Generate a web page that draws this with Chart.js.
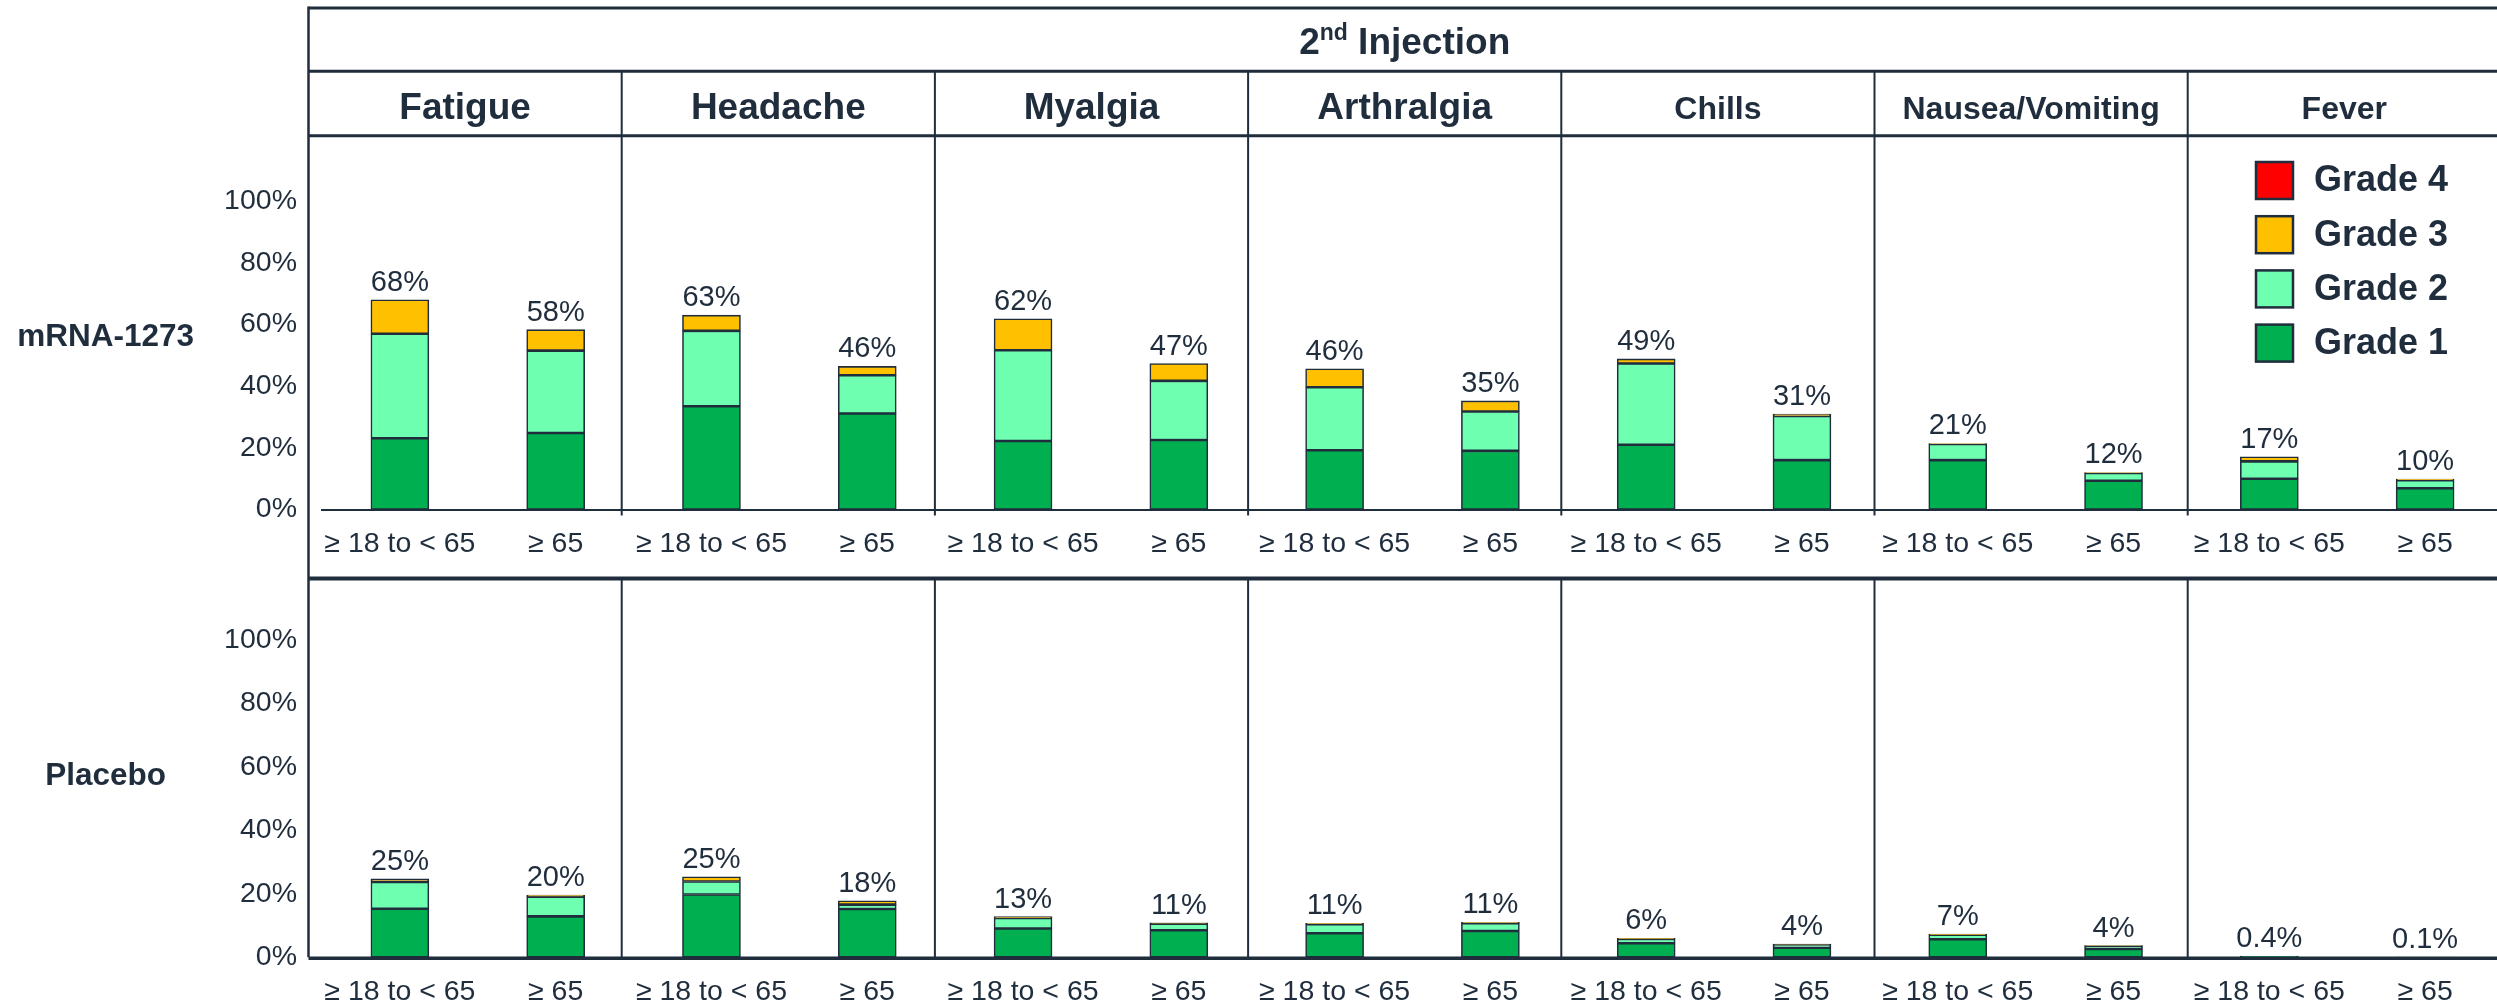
<!DOCTYPE html>
<html>
<head>
<meta charset="utf-8">
<script src="https://cdn.jsdelivr.net/npm/chart.js@4.4.1/dist/chart.umd.min.js"></script>
<style>
    html, body { margin: 0; padding: 0; background: #fff; overflow: hidden; width: 2497px; height: 1007px; }
    canvas { position: absolute; left: 0; }
    #topChart { top: 0; }
    #bottomChart { top: 579px; }
</style>
</head>
<body>
<canvas id="topChart" width="2503" height="579"></canvas>
<canvas id="bottomChart" width="2503" height="428"></canvas>
<script>
// Categories
const symptoms = ['Fatigue', 'Headache', 'Myalgia', 'Arthralgia', 'Chills', 'Nausea/Vomiting', 'Fever'];
const ageGroups = ['≥ 18 to < 65', '≥ 65'];
const grades = ['Grade 1', 'Grade 2', 'Grade 3', 'Grade 4'];
const yTicks = [0, 20, 40, 60, 80, 100];

// mRNA-1273, one value per bar (symptom x age group), in %
const vaccineG1 = [23.1, 24.8, 33.5, 31.1, 22.2, 22.5, 19.2, 19.0, 21.0, 16.0, 16.0, 9.3, 10.0, 6.9];
const vaccineG2 = [33.9, 26.7, 24.4, 12.4, 29.4, 19.2, 20.4, 12.8, 26.3, 14.3, 5.2, 2.5, 5.6, 2.6];
const vaccineG3 = [11.0, 6.8, 5.1, 2.9, 10.2, 5.6, 6.0, 3.4, 1.5, 0.6, 0.2, 0.2, 1.5, 0.4];
const vaccineG4 = [0, 0, 0, 0, 0, 0, 0, 0, 0, 0, 0, 0, 0, 0];
const vaccineTotals = ['68%', '58%', '63%', '46%', '62%', '47%', '46%', '35%', '49%', '31%', '21%', '12%', '17%', '10%'];

// Placebo
const placeboG1 = [15.3, 12.9, 19.8, 15.2, 9.1, 8.5, 7.6, 8.3, 4.4, 3.0, 5.7, 2.6, 0.3, 0.1];
const placeboG2 = [8.4, 6.2, 4.1, 1.4, 3.3, 2.1, 2.8, 2.4, 1.4, 1.0, 1.4, 1.0, 0.1, 0];
const placeboG3 = [1.0, 0.5, 1.5, 1.2, 0.4, 0.3, 0.3, 0.3, 0.2, 0.2, 0.2, 0.1, 0, 0];
const placeboG4 = [0, 0, 0, 0, 0, 0, 0, 0, 0, 0, 0, 0, 0, 0];
const placeboTotals = ['25%', '20%', '25%', '18%', '13%', '11%', '11%', '11%', '6%', '4%', '7%', '4%', '0.4%', '0.1%'];

// Styles
const gradeColors = ['#00B050', '#6EFFB1', '#FFC000', '#FF0000'];
const headerSizes = [37, 37, 37, 37, 32, 32, 32];
const ink = '#1F2D3D';
const font = '"Liberation Sans", Arial, sans-serif';

// Table frame layout
const frameLeft = 308.5;
const colW = 313.2;
const rowLabelX = 105.6;

const xLabels = [];
symptoms.forEach(() => ageGroups.forEach(a => xLabels.push(a)));

function line(ctx, x1, y1, x2, y2, w) {
    ctx.beginPath();
    ctx.lineWidth = w;
    ctx.moveTo(x1, y1);
    ctx.lineTo(x2, y2);
    ctx.stroke();
}

// Total % above every stacked bar
const totalsPlugin = {
    id: 'totals',
    afterDatasetsDraw(chart, args, opts) {
        const ctx = chart.ctx;
        ctx.save();
        ctx.fillStyle = ink;
        ctx.font = '29px ' + font;
        ctx.textAlign = 'center';
        ctx.textBaseline = 'alphabetic';
        opts.labels.forEach((txt, i) => {
            let top = Infinity, x = 0;
            chart.data.datasets.forEach((ds, k) => {
                const bar = chart.getDatasetMeta(k).data[i];
                x = bar.x;
                top = Math.min(top, bar.y);
            });
            ctx.fillText(txt, x, top - 9);
        });
        ctx.restore();
    }
};

// Header table, separators, row label, legend
const framePlugin = {
    id: 'frame',
    afterDraw(chart, args, opts) {
        const ctx = chart.ctx;
        const w = chart.width;
        const zeroY = chart.scales.y.getPixelForValue(0);
        ctx.save();
        ctx.strokeStyle = ink;
        ctx.fillStyle = ink;
        ctx.textAlign = 'center';
        ctx.textBaseline = 'alphabetic';

        if (opts.panel === 'top') {
            line(ctx, frameLeft, 8, w, 8, 3);
            line(ctx, frameLeft, 71.3, w, 71.3, 3);
            line(ctx, frameLeft, 135.7, w, 135.7, 3);
            line(ctx, frameLeft, 6.5, frameLeft, 579, 2.5);
            for (let k = 1; k < symptoms.length; k++) {
                const x = frameLeft + k * colW;
                line(ctx, x, 71.3, x, zeroY + 6, 2);
            }
            line(ctx, frameLeft, 578, w, 578, 3);

            // title: 2nd Injection
            const cx = frameLeft + colW * symptoms.length / 2;
            ctx.font = 'bold 37px ' + font;
            const w2 = ctx.measureText('2').width;
            const wRest = ctx.measureText(' Injection').width;
            ctx.font = 'bold 23px ' + font;
            const wSup = ctx.measureText('nd').width;
            let x0 = cx - (w2 + wSup + wRest) / 2;
            ctx.textAlign = 'left';
            ctx.font = 'bold 37px ' + font;
            ctx.fillText('2', x0, 53.6);
            ctx.font = 'bold 23px ' + font;
            ctx.fillText('nd', x0 + w2, 40);
            ctx.font = 'bold 37px ' + font;
            ctx.fillText(' Injection', x0 + w2 + wSup, 53.6);

            ctx.textAlign = 'center';
            symptoms.forEach((s, k) => {
                ctx.font = 'bold ' + headerSizes[k] + 'px ' + font;
                ctx.fillText(s, frameLeft + (k + 0.5) * colW, 118.5);
            });

            ctx.font = 'bold 31.5px ' + font;
            ctx.fillText('mRNA-1273', rowLabelX, 346);

            // legend, Grade 4 on top
            const lx = 2256, ly = 162, step = 54.2;
            [3, 2, 1, 0].forEach((g, r) => {
                const y = ly + r * step;
                ctx.fillStyle = gradeColors[g];
                ctx.fillRect(lx, y, 37, 37);
                ctx.lineWidth = 2.5;
                ctx.strokeRect(lx, y, 37, 37);
                ctx.fillStyle = ink;
                ctx.textAlign = 'left';
                ctx.textBaseline = 'middle';
                ctx.font = 'bold 36px ' + font;
                ctx.fillText(grades[g], 2314, y + 19.5);
            });
        } else {
            line(ctx, frameLeft, 0, w, 0, 3);
            line(ctx, frameLeft, 0, frameLeft, zeroY, 2.5);
            for (let k = 1; k < symptoms.length; k++) {
                const x = frameLeft + k * colW;
                line(ctx, x, 0, x, zeroY, 2);
            }
            line(ctx, frameLeft, zeroY + 1, w, zeroY + 1, 3.5);
            ctx.font = 'bold 31.5px ' + font;
            ctx.fillText('Placebo', rowLabelX, 206);
        }
        ctx.restore();
    }
};

function makeChart(id, series, totals, panel, padTop, axisH, axisBorder) {
    return new Chart(document.getElementById(id), {
        type: 'bar',
        data: {
            labels: xLabels,
            datasets: grades.map((g, k) => ({
                label: g,
                data: series[k],
                backgroundColor: gradeColors[k],
                borderColor: ink,
                borderWidth: 1.6,
                borderSkipped: false,
                barThickness: 58
            }))
        },
        options: {
            responsive: false,
            animation: false,
            layout: { padding: { top: padTop, right: 0, bottom: 0, left: 0 } },
            plugins: {
                legend: { display: false },
                tooltip: { enabled: false },
                totals: { labels: totals },
                frame: { panel: panel }
            },
            scales: {
                x: {
                    stacked: true,
                    grid: { display: false, drawTicks: false },
                    border: { display: axisBorder, color: ink, width: 2 },
                    ticks: { color: ink, font: { family: font, size: 28.5 }, padding: 18, autoSkip: false, maxRotation: 0 },
                    afterFit: s => { s.height = axisH; }
                },
                y: {
                    stacked: true,
                    min: 0,
                    max: 100,
                    afterBuildTicks: s => { s.ticks = yTicks.map(v => ({ value: v })); },
                    grid: { display: false, drawTicks: false },
                    border: { display: false },
                    ticks: { color: ink, font: { family: font, size: 28.5 }, padding: 25, callback: v => v + '%' },
                    afterFit: s => { s.width = 322; }
                }
            }
        },
        plugins: [totalsPlugin, framePlugin]
    });
}

makeChart('topChart', [vaccineG1, vaccineG2, vaccineG3, vaccineG4], vaccineTotals, 'top', 201, 69.5, true);
makeChart('bottomChart', [placeboG1, placeboG2, placeboG3, placeboG4], placeboTotals, 'bottom', 61, 49.7, false);
</script>
</body>
</html>
